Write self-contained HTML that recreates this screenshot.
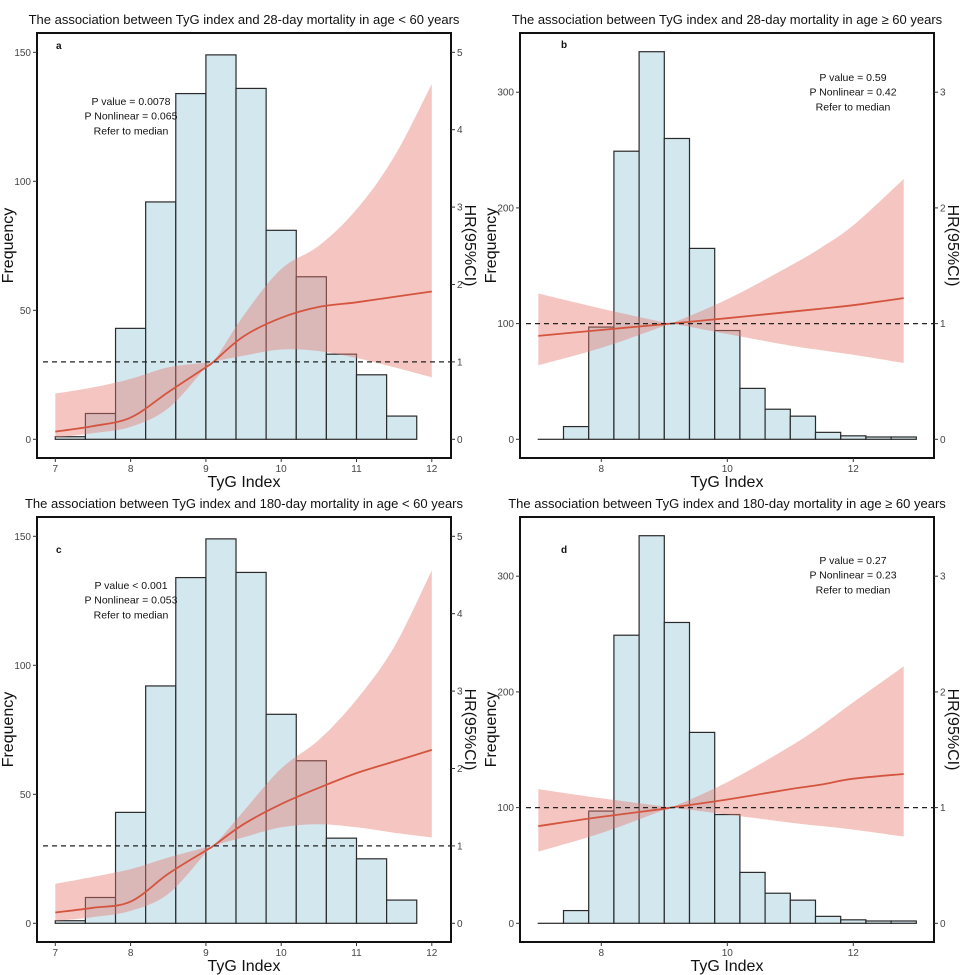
<!DOCTYPE html>
<html><head><meta charset="utf-8">
<style>
html,body{margin:0;padding:0;background:#fff;}
svg{display:block;font-family:"Liberation Sans",Arial,sans-serif;}
</style></head>
<body>
<svg id="fig" width="966" height="975" viewBox="0 0 966 975" xmlns="http://www.w3.org/2000/svg"></svg>
<script>
// ---------- data ----------
const binWidth = 0.4;
const binStartYoung = 7.0;
const binStartOld = 7.0;
const countsYoung = [1,10,43,92,134,149,136,81,63,33,25,9];
const countsOld = [0,11,97,249,335,260,165,94,44,26,20,6,3,2,2];

const xA = [7,7.5,8,8.5,9,9.1,9.5,10,10.5,11,11.5,12];
const hrA = [0.1,0.17,0.28,0.61,0.93,1,1.33,1.57,1.71,1.77,1.84,1.91];
const upA = [0.59,0.67,0.78,0.93,0.99,1,1.6,2.2,2.5,2.97,3.65,4.59];
const loA = [0.02,0.08,0.16,0.4,0.93,1,1.08,1.16,1.14,1.05,0.93,0.8];

const xB = [7,8,9,9.1,10,11,11.5,12,12.8];
const hrB = [0.894,0.945,0.995,1,1.047,1.102,1.13,1.159,1.22];
const upB = [1.26,1.13,1.01,1,1.21,1.5,1.66,1.85,2.25];
const loB = [0.64,0.79,0.98,1,0.91,0.81,0.77,0.73,0.66];

const xC = [7,7.5,8,8.5,9,9.1,9.5,10,10.5,11,11.5,12];
const hrC = [0.14,0.2,0.28,0.64,0.94,1,1.28,1.54,1.75,1.94,2.09,2.24];
const upC = [0.51,0.6,0.7,0.85,0.98,1,1.45,2.0,2.37,2.89,3.57,4.56];
const loC = [0.03,0.08,0.16,0.38,0.91,1,1.11,1.24,1.28,1.24,1.17,1.11];

const xD = [7,8,9,9.1,10,11,11.5,12,12.8];
const hrD = [0.84,0.92,0.99,1,1.07,1.16,1.2,1.25,1.29];
const upD = [1.16,1.08,1.01,1,1.22,1.53,1.71,1.91,2.22];
const loD = [0.62,0.78,0.98,1,0.94,0.87,0.84,0.81,0.75];

const xTicksYoung = [7,8,9,10,11,12];
const xTicksOld = [8,10,12];
const freqTicksYoung = [0,50,100,150];
const freqTicksOld = [0,100,200,300];
const hrTicksYoung = [0,1,2,3,4,5];
const hrTicksOld = [0,1,2,3];

const titles = [
 "The association between TyG index and 28-day mortality in age < 60 years",
 "The association between TyG index and 28-day mortality in age ≥ 60 years",
 "The association between TyG index and 180-day mortality in age < 60 years",
 "The association between TyG index and 180-day mortality in age ≥ 60 years"];
const statsA = ["P value = 0.0078","P Nonlinear = 0.065","Refer to median"];
const statsB = ["P value = 0.59","P Nonlinear = 0.42","Refer to median"];
const statsC = ["P value < 0.001","P Nonlinear = 0.053","Refer to median"];
const statsD = ["P value = 0.27","P Nonlinear = 0.23","Refer to median"];

// ---------- drawing ----------
const NS="http://www.w3.org/2000/svg";
const svg=document.getElementById('fig');
function mk(tag,attrs,parent){const e=document.createElementNS(NS,tag);for(const k in attrs)e.setAttribute(k,attrs[k]);(parent||svg).appendChild(e);return e;}

// Catmull-Rom smooth path through points (continuing an existing path if cont)
function smooth(pts,cont){
  let d=(cont?'L':'M')+pts[0][0].toFixed(1)+','+pts[0][1].toFixed(1);
  for(let i=0;i<pts.length-1;i++){
    const p0=pts[Math.max(i-1,0)],p1=pts[i],p2=pts[i+1],p3=pts[Math.min(i+2,pts.length-1)];
    const c1x=p1[0]+(p2[0]-p0[0])/6,c1y=p1[1]+(p2[1]-p0[1])/6;
    const c2x=p2[0]-(p3[0]-p1[0])/6,c2y=p2[1]-(p3[1]-p1[1])/6;
    d+='C'+c1x.toFixed(1)+','+c1y.toFixed(1)+' '+c2x.toFixed(1)+','+c2y.toFixed(1)+' '+p2[0].toFixed(1)+','+p2[1].toFixed(1);
  }
  return d;
}

function panel(o){
  const g=mk('g',{});
  
  
  const px=x=>o.x0+(x-o.xmin)*o.xs;
  const pf=f=>o.y0-f*o.fs;
  const ph=h=>o.y0-h*o.hs;
  const t=mk('text',{x:(o.bl+o.br)/2,y:o.bt-9,'text-anchor':'middle','font-size':13,fill:'#111'},g);
  t.textContent=o.title;
  
  
  o.counts.forEach((c,i)=>{
    const x1=px(o.binStart+i*binWidth), x2=px(o.binStart+(i+1)*binWidth);
    const r=mk('rect',{x:x1,y:pf(c),width:x2-x1,height:Math.max(pf(0)-pf(c),0.01),fill:'#d3e7ef',stroke:'#2a2a2a','stroke-width':1.2},g);
    
    
  });
  const upPts=o.cx.map((x,i)=>[px(x),ph(o.up[i])]);
  const loPts=o.cx.map((x,i)=>[px(x),ph(o.lo[i])]).reverse();
  const d=smooth(upPts,false)+smooth(loPts,true)+'Z';
  const band=mk('path',{d:d,fill:'#e8776c','fill-opacity':0.42,stroke:'none'},g);
  
  
  const hrPts=o.cx.map((x,i)=>[px(x),ph(o.hr[i])]);
  const ln=mk('path',{d:smooth(hrPts,false),fill:'none',stroke:'#d4553f','stroke-width':1.8},g);
  
  
  const ref=mk('line',{x1:o.bl+6,x2:o.br,y1:ph(1),y2:ph(1),stroke:'#222','stroke-width':1.2,'stroke-dasharray':'5,4'},g);
  
  
  const box=mk('rect',{x:o.bl,y:o.bt,width:o.br-o.bl,height:o.bb-o.bt,fill:'none',stroke:'#111','stroke-width':2},g);
  
  
  o.xt.forEach(v=>{
    mk('line',{x1:px(v),x2:px(v),y1:o.bb,y2:o.bb+4,stroke:'#333','stroke-width':1},g);
    const tx=mk('text',{x:px(v),y:o.bb+14,'text-anchor':'middle','font-size':10,fill:'#444'},g);
    tx.textContent=v;
    
    
  });
  o.ft.forEach(v=>{
    mk('line',{x1:o.bl-4,x2:o.bl,y1:pf(v),y2:pf(v),stroke:'#333','stroke-width':1},g);
    const tx=mk('text',{x:o.bl-6,y:pf(v)+3.5,'text-anchor':'end','font-size':10,fill:'#444'},g);
    tx.textContent=v;
    
    
  });
  o.ht.forEach(v=>{
    mk('line',{x1:o.br,x2:o.br+4,y1:ph(v),y2:ph(v),stroke:'#333','stroke-width':1},g);
    const tx=mk('text',{x:o.br+6,y:ph(v)+3.5,'text-anchor':'start','font-size':10,fill:'#444'},g);
    tx.textContent=v;
    
    
  });
  const xl=mk('text',{x:(o.bl+o.br)/2,y:o.bb+29,'text-anchor':'middle','font-size':16,fill:'#111'},g);
  xl.textContent='TyG Index';
  
  
  const cy=(o.bt+o.bb)/2;
  const yl=mk('text',{x:0,y:0,transform:`translate(${o.bl-24},${cy}) rotate(-90)`,'text-anchor':'middle','font-size':16,fill:'#111'},g);
  yl.textContent='Frequency';
  
  
  const yr=mk('text',{x:0,y:0,transform:`translate(${o.br+14},${cy}) rotate(90)`,'text-anchor':'middle','font-size':16,fill:'#111'},g);
  yr.textContent='HR(95%CI)';
  
  
  const lt=mk('text',{x:o.lx,y:o.ly,'font-size':10,'font-weight':'bold',fill:'#111'},g);
  lt.textContent=o.letter;
  
  
  o.stats.forEach((s,i)=>{
    const st=mk('text',{x:o.sx,y:o.sy+i*14.7,'text-anchor':'middle','font-size':10.5,fill:'#111'},g);
    st.textContent=s;
    
    
  });
}

const L={bl:37,br:451,x0:55.3,xmin:7,xs:75.3,fs:2.58,hs:77.4};
const R={bl:520,br:934,x0:538.3,xmin:7,xs:63,fs:1.157,hs:115.7};
const topBox={bt:33,bb:458,y0:439.3};
const off=484;
const botBox={bt:topBox.bt+off,bb:topBox.bb+off,y0:topBox.y0+off};

panel(Object.assign({},L,topBox,{name:'panel-a',title:titles[0],counts:countsYoung,binStart:binStartYoung,cx:xA,hr:hrA,up:upA,lo:loA,xt:xTicksYoung,ft:freqTicksYoung,ht:hrTicksYoung,letter:'a',lx:56,ly:49,stats:statsA,sx:131,sy:105}));
panel(Object.assign({},R,topBox,{name:'panel-b',title:titles[1],counts:countsOld,binStart:binStartOld,cx:xB,hr:hrB,up:upB,lo:loB,xt:xTicksOld,ft:freqTicksOld,ht:hrTicksOld,letter:'b',lx:561,ly:48,stats:statsB,sx:853,sy:81}));
panel(Object.assign({},L,botBox,{name:'panel-c',title:titles[2],counts:countsYoung,binStart:binStartYoung,cx:xC,hr:hrC,up:upC,lo:loC,xt:xTicksYoung,ft:freqTicksYoung,ht:hrTicksYoung,letter:'c',lx:56,ly:553,stats:statsC,sx:131,sy:589}));
panel(Object.assign({},R,botBox,{name:'panel-d',title:titles[3],counts:countsOld,binStart:binStartOld,cx:xD,hr:hrD,up:upD,lo:loD,xt:xTicksOld,ft:freqTicksOld,ht:hrTicksOld,letter:'d',lx:561,ly:553,stats:statsD,sx:853,sy:564}));
</script>
</body></html>
